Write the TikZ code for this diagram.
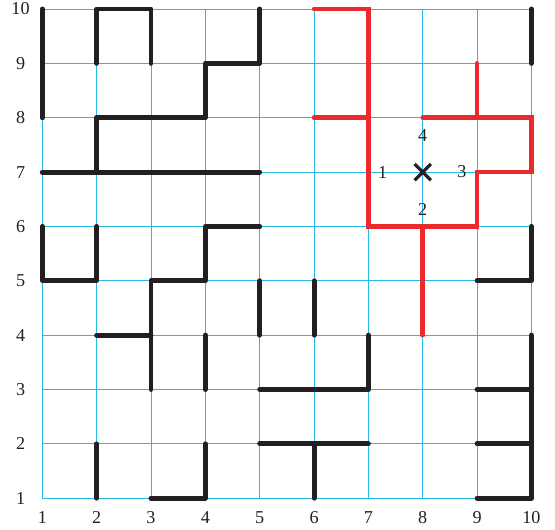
\documentclass[tikz,border=0pt]{standalone}
\usepackage{fontspec}
\setmainfont{Liberation Serif}
\begin{document}
\begin{tikzpicture}[x=1cm,y=1cm,
  gridline/.style={draw=gridblue,line width=0.5pt},
  wall/.style={draw=wallblack,line width=2.6pt,line cap=round,line join=round},
  redpath/.style={draw=pathred,line width=2.4pt,line cap=round,line join=miter},
  lab/.style={font=\fontsize{9.5}{11}\selectfont,text=labgray,inner sep=0pt}]
\definecolor{gridblue}{RGB}{40,185,230}
\definecolor{wallblack}{RGB}{35,31,32}
\definecolor{pathred}{RGB}{236,42,46}
\definecolor{labgray}{RGB}{35,31,32}
\useasboundingbox (0.222,0.424) rectangle (10.433,10.166);
% grid
\foreach \i in {1,...,10} {
  \draw[gridline] (\i,1) -- (\i,10);
  \draw[gridline] (1,\i) -- (10,\i);
  \node[lab] at (\i,0.65) {\i};
  \node[lab] at (0.60,\i) {\i};
}
% black walls
\draw[wall] (1,8) -- (1,10);
\draw[wall] (2,9) -- (2,10) -- (3,10) -- (3,9);
\draw[wall] (2,7) -- (2,8) -- (4,8) -- (4,9) -- (5,9) -- (5,10);
\draw[wall] (1,7) -- (5,7);
\draw[wall] (1,6) -- (1,5) -- (2,5) -- (2,6);
\draw[wall] (3,3) -- (3,5) -- (4,5) -- (4,6) -- (5,6);
\draw[wall] (2,4) -- (3,4);
\draw[wall] (4,3) -- (4,4);
\draw[wall] (5,4) -- (5,5);
\draw[wall] (6,4) -- (6,5);
\draw[wall] (2,1) -- (2,2);
\draw[wall] (3,1) -- (4,1) -- (4,2);
\draw[wall] (5,3) -- (7,3) -- (7,4);
\draw[wall] (5,2) -- (7,2);
\draw[wall] (6,1) -- (6,2);
\draw[wall] (9,5) -- (10,5) -- (10,6);
\draw[wall] (10,4) -- (10,1) -- (9,1);
\draw[wall] (9,3) -- (10,3);
\draw[wall] (9,2) -- (10,2);
\draw[wall] (10,9) -- (10,10);
% red path
\draw[redpath] (6,10) -- (7,10) -- (7,6) -- (9,6) -- (9,7) -- (10,7) -- (10,8) -- (8,8);
\draw[redpath] (6,8) -- (7,8);
\draw[redpath] (9,8) -- (9,9);
\draw[redpath] (8,6) -- (8,4);
% cross and labels
\draw[wallblack,line width=1.7pt] (7.85,6.85) -- (8.15,7.15) (7.85,7.15) -- (8.15,6.85);
\node[lab] (l1) at (7.26,7) {1};
\node[lab] (l3) at (8.72,7) {3};
\node[lab] (l4) at (8,7.68) {4};
\node[lab] (l2) at (8,6.31) {2};
\end{tikzpicture}
\end{document}
